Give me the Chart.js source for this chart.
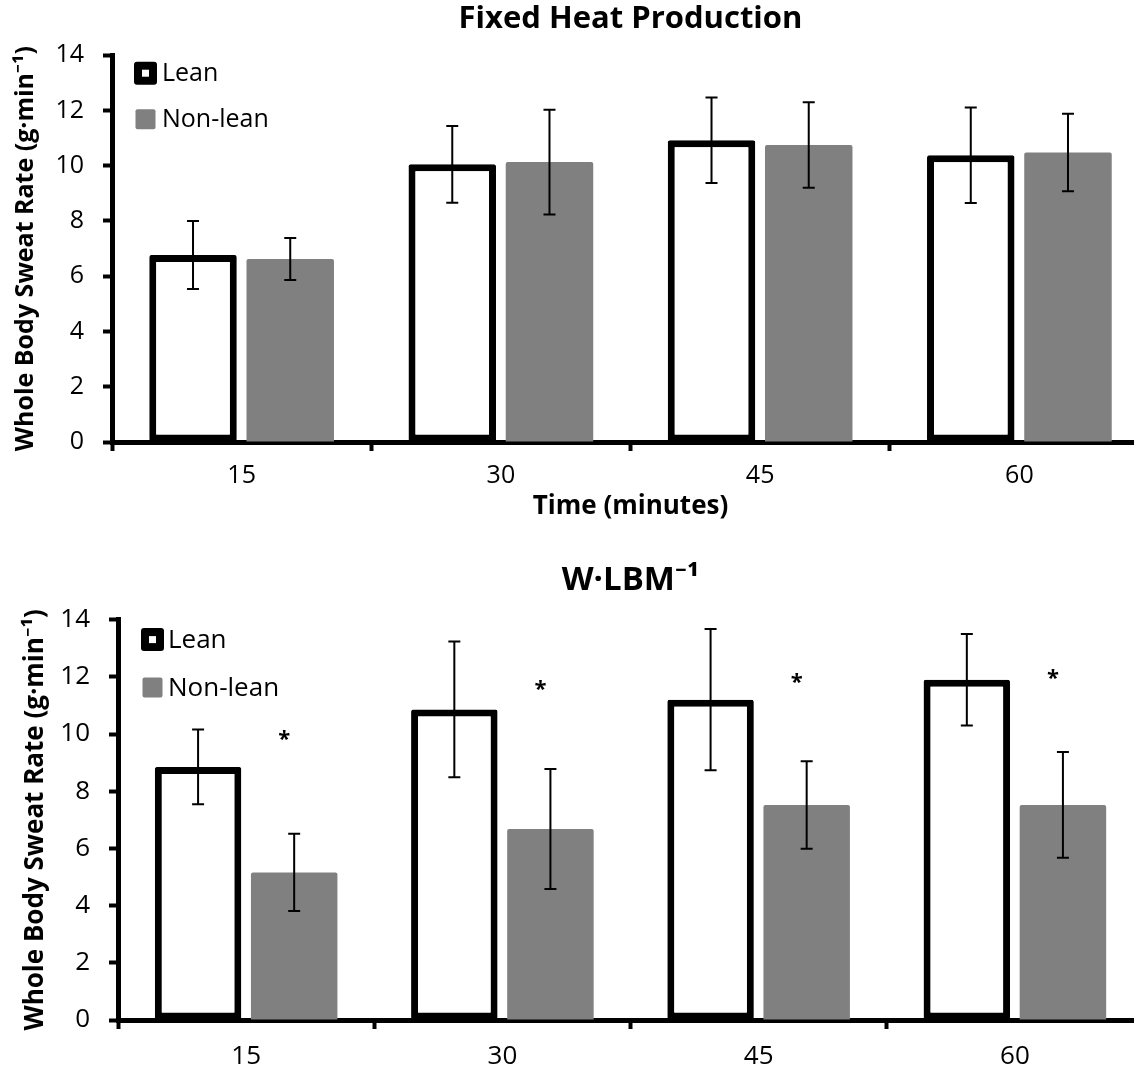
<!DOCTYPE html>
<html>
<head>
<meta charset="utf-8">
<script src="https://cdn.jsdelivr.net/npm/chart.js@4.4.1/dist/chart.umd.min.js"></script>
<style>
  html, body { margin: 0; padding: 0; background: #fff; overflow: hidden; width: 1134px; height: 1069px; }
  canvas { position: absolute; left: 0; }
  #c1 { top: 0; }
  #c2 { top: 540px; }
</style>
</head>
<body>
<canvas id="c1" width="1149" height="530"></canvas>
<canvas id="c2" width="1143" height="529"></canvas>
<script>
const minutes = ["15", "30", "45", "60"];
const yTicks = [0, 2, 4, 6, 8, 10, 12, 14];

// Fixed heat production
const fixedLean = [6.77, 10.05, 10.92, 10.38];
const fixedLeanSD = [1.23, 1.39, 1.55, 1.73];
const fixedNonLean = [6.62, 10.13, 10.75, 10.48];
const fixedNonLeanSD = [0.76, 1.90, 1.55, 1.40];

// W per LBM
const wlbmLean = [8.85, 10.86, 11.20, 11.90];
const wlbmLeanSD = [1.31, 2.37, 2.47, 1.60];
const wlbmNonLean = [5.16, 6.68, 7.52, 7.52];
const wlbmNonLeanSD = [1.35, 2.10, 1.53, 1.85];
const wlbmStars = [10.0, 11.76, 11.99, 12.13];

const FONT = "'Open Sans', 'Noto Sans', sans-serif";

// mean +/- SD whiskers
const errorBars = {
  id: "errorBars",
  afterDatasetsDraw(chart) {
    const { ctx, scales: { y } } = chart;
    ctx.save();
    ctx.strokeStyle = "#000";
    ctx.lineWidth = 2;
    chart.data.datasets.forEach((ds, i) => {
      if (!ds.errors) return;
      chart.getDatasetMeta(i).data.forEach((bar, j) => {
        const hi = y.getPixelForValue(ds.data[j] + ds.errors[j]);
        const lo = y.getPixelForValue(ds.data[j] - ds.errors[j]);
        ctx.beginPath();
        ctx.moveTo(bar.x, hi); ctx.lineTo(bar.x, lo);
        ctx.moveTo(bar.x - 6, hi); ctx.lineTo(bar.x + 6, hi);
        ctx.moveTo(bar.x - 6, lo); ctx.lineTo(bar.x + 6, lo);
        ctx.stroke();
      });
    });
    ctx.restore();
  },
};

// legend drawn inside the plot, top left
const insideLegend = {
  id: "insideLegend",
  afterDraw(chart, args, opts) {
    const { ctx, chartArea: a } = chart;
    const s = opts.box;
    ctx.save();
    chart.data.datasets.forEach((ds, i) => {
      const cy = a.top + opts.y + i * opts.gap;
      const bx = a.left + opts.x;
      if (ds.borderWidth) {
        ctx.fillStyle = ds.borderColor;
        ctx.beginPath(); ctx.roundRect(bx, cy - s / 2, s, s, 3); ctx.fill();
        ctx.fillStyle = ds.backgroundColor;
        ctx.fillRect(bx + 8, cy - s / 2 + 8, s - 16, s - 16);
      } else {
        ctx.fillStyle = ds.backgroundColor;
        ctx.beginPath(); ctx.roundRect(bx + 1.5, cy - s / 2 + 1.5, s - 3, s - 3, 2); ctx.fill();
      }
      ctx.fillStyle = "#000";
      ctx.font = opts.fontSize + "px " + FONT;
      ctx.textBaseline = "middle";
      ctx.fillText(ds.label, a.left + opts.textX, cy + 1);
    });
    ctx.restore();
  },
};

// significance asterisks above the non-lean bars
const stars = {
  id: "stars",
  afterDatasetsDraw(chart, args, opts) {
    if (!opts.levels) return;
    const { ctx, scales: { y } } = chart;
    const bars = chart.getDatasetMeta(1).data;
    ctx.save();
    ctx.fillStyle = "#000";
    ctx.font = "bold " + opts.size + "px " + FONT;
    ctx.textAlign = "center";
    ctx.textBaseline = "alphabetic";
    opts.levels.forEach((v, j) => {
      ctx.fillText("*", bars[j].x + opts.dx, y.getPixelForValue(v) + opts.size * 0.56);
    });
    ctx.restore();
  },
};

function buildChart(id, o) {
  return new Chart(document.getElementById(id), {
    type: "bar",
    data: {
      labels: minutes,
      datasets: [
        {
          label: "Lean",
          data: o.lean,
          errors: o.leanSD,
          backgroundColor: "#ffffff",
          borderColor: "#000000",
          borderWidth: 7,
          borderSkipped: false,
          borderRadius: 2,
        },
        {
          label: "Non-lean",
          data: o.nonLean,
          errors: o.nonLeanSD,
          backgroundColor: "#808080",
          borderWidth: 0,
          borderRadius: 2,
        },
      ],
    },
    options: {
      responsive: false,
      animation: false,
      layout: { padding: 0 },
      datasets: { bar: { categoryPercentage: 0.75, barPercentage: 0.9 } },
      plugins: {
        legend: { display: false },
        tooltip: { enabled: false },
        title: {
          display: true,
          text: o.title,
          fullSize: false,
          color: "#000",
          font: { family: FONT, size: o.titleSize, weight: "bold" },
          padding: o.titlePad,
        },
        insideLegend: o.legend,
        stars: o.stars || {},
      },
      scales: {
        x: {
          grid: {
            drawOnChartArea: false,
            drawTicks: true,
            tickLength: 9,
            tickWidth: 4,
            tickColor: "#000",
            offset: true,
          },
          border: { color: "#000", width: 5 },
          ticks: { color: "#000", font: { family: FONT, size: o.tickSize }, padding: o.xTickPad },
          title: o.xTitle
            ? {
                display: true,
                text: o.xTitle,
                color: "#000",
                font: { family: FONT, size: 26, weight: "bold" },
                padding: { top: 0, bottom: 8 },
              }
            : { display: false },
          afterFit: (s) => { s.height = o.xAxisHeight; },
        },
        y: {
          min: 0,
          max: 14,
          afterBuildTicks: (s) => { s.ticks = yTicks.map((v) => ({ value: v })); },
          grid: { drawOnChartArea: false, tickLength: 9, tickWidth: 4, tickColor: "#000" },
          border: { color: "#000", width: 5 },
          ticks: { color: "#000", font: { family: FONT, size: o.tickSize }, padding: 19 },
          title: {
            display: true,
            text: "Whole Body Sweat Rate (g·min⁻¹)",
            color: "#000",
            font: { family: FONT, size: o.yTitleSize, weight: "bold" },
            padding: { top: o.yTitlePad, bottom: 0 },
          },
          afterFit: (s) => { s.width = o.yAxisWidth; },
        },
      },
    },
    plugins: [errorBars, insideLegend, stars],
  });
}

buildChart("c1", {
  title: "Fixed Heat Production",
  titleSize: 31,
  titlePad: { top: 1, bottom: 17 },
  lean: fixedLean,
  leanSD: fixedLeanSD,
  nonLean: fixedNonLean,
  nonLeanSD: fixedNonLeanSD,
  tickSize: 25,
  xTickPad: 10,
  xTitle: "Time (minutes)",
  xAxisHeight: 88,
  yAxisWidth: 112,
  yTitleSize: 25,
  yTitlePad: 11,
  legend: { x: 22, y: 18, gap: 46, box: 23, textX: 50, fontSize: 25 },
});

buildChart("c2", {
  title: "W·LBM⁻¹",
  titleSize: 33,
  titlePad: { top: 21, bottom: 19 },
  lean: wlbmLean,
  leanSD: wlbmLeanSD,
  nonLean: wlbmNonLean,
  nonLeanSD: wlbmNonLeanSD,
  tickSize: 26,
  xTickPad: 12,
  xTitle: null,
  xAxisHeight: 49,
  yAxisWidth: 118,
  yTitleSize: 26,
  yTitlePad: 20,
  legend: { x: 23, y: 20, gap: 48, box: 23, textX: 50, fontSize: 26 },
  stars: { levels: wlbmStars, dx: -10, size: 22 },
});
</script>
</body>
</html>
